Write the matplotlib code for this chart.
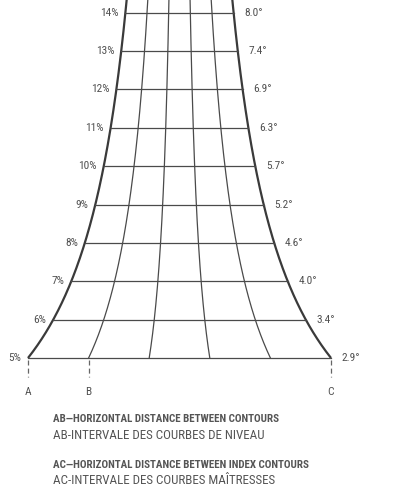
import numpy as np
import matplotlib
matplotlib.use("Agg")
import matplotlib.pyplot as plt

# ---- data ----
grades = [5, 6, 7, 8, 9, 10, 11, 12, 13, 14]
pct_labels = ["5%", "6%", "7%", "8%", "9%", "10%", "11%", "12%", "13%", "14%"]
deg_labels = ["2.9°", "3.4°", "4.0°", "4.6°", "5.2°", "5.7°", "6.3°", "6.9°", "7.4°", "8.0°"]
divisions = 5            # AB = AC / 5
letters = ["A", "B", "C"]
letter_frac = [0.0, 0.2, 1.0]
caption = [
    "AB—HORIZONTAL DISTANCE BETWEEN CONTOURS",
    "AB-INTERVALE DES COURBES DE NIVEAU",
    "AC—HORIZONTAL DISTANCE BETWEEN INDEX CONTOURS",
    "AC-INTERVALE DES COURBES MAÎTRESSES",
]

plt.rcParams["font.family"] = ["Roboto Condensed", "DejaVu Sans"]

W, H = 417, 501
fig = plt.figure(figsize=(W / 100, H / 100), dpi=100)
ax = fig.add_axes([0, 0, 1, 1])
ax.set_xlim(-179.5 / 303, (W - 179.5) / 303)
ax.set_ylim(5 - 143 / 38.37, 5 + 358 / 38.37)
ax.axis("off")

g0 = grades[0]
def width(g):
    return g0 / np.asarray(g, dtype=float)

gg = np.linspace(g0, 15, 300)
edge_col = "#3a3a3a"
grid_col = "#4a4a4a"
for f in (0.0, 1.0):
    ax.plot((f - 0.5) * width(gg), gg, color=edge_col, lw=1.6, solid_capstyle="butt")
for i in range(1, divisions):
    f = i / divisions
    ax.plot((f - 0.5) * width(gg), gg, color=grid_col, lw=0.9)
for g in grades:
    w = width(g)
    ax.plot([-0.5 * w, 0.5 * w], [g, g], color=grid_col, lw=0.9)

txt_col = "#505050"
fs = 8.2
for g, pl, dl in zip(grades, pct_labels, deg_labels):
    w = width(g)
    ax.annotate(pl, (-0.5 * w, g), xytext=(-5.0, 0), textcoords="offset points",
                ha="right", va="center", fontsize=fs, color=txt_col)
    ax.annotate(dl, (0.5 * w, g), xytext=(7.8, 0), textcoords="offset points",
                ha="left", va="center", fontsize=fs, color=txt_col)

for lt, f in zip(letters, letter_frac):
    x = (f - 0.5) * width(g0)
    y_top = g0 - 2 / 38.37
    y_bot = g0 - 19 / 38.37
    ax.plot([x, x], [y_top, y_bot], color="#666666", lw=0.9, linestyle=(0, (4, 2.5)))
    ax.text(x, g0 - 34 / 38.37, lt, ha="center", va="center", fontsize=fs, color=txt_col)

def fy(py):
    return 1 - py / H

cs1, cs2 = 7.9, 9.35
fig.text(53 / W, fy(419.5), caption[0], fontsize=cs1, fontweight="semibold", color="#555555",
         ha="left", va="center")
fig.text(53 / W, fy(435.5), caption[1], fontsize=cs2, color="#555555", ha="left", va="center")
fig.text(53 / W, fy(465), caption[2], fontsize=cs1, fontweight="semibold", color="#555555",
         ha="left", va="center")
fig.text(53 / W, fy(480.5), caption[3], fontsize=cs2, color="#555555", ha="left", va="center")

fig.savefig("out.png", dpi=100, facecolor="white")
